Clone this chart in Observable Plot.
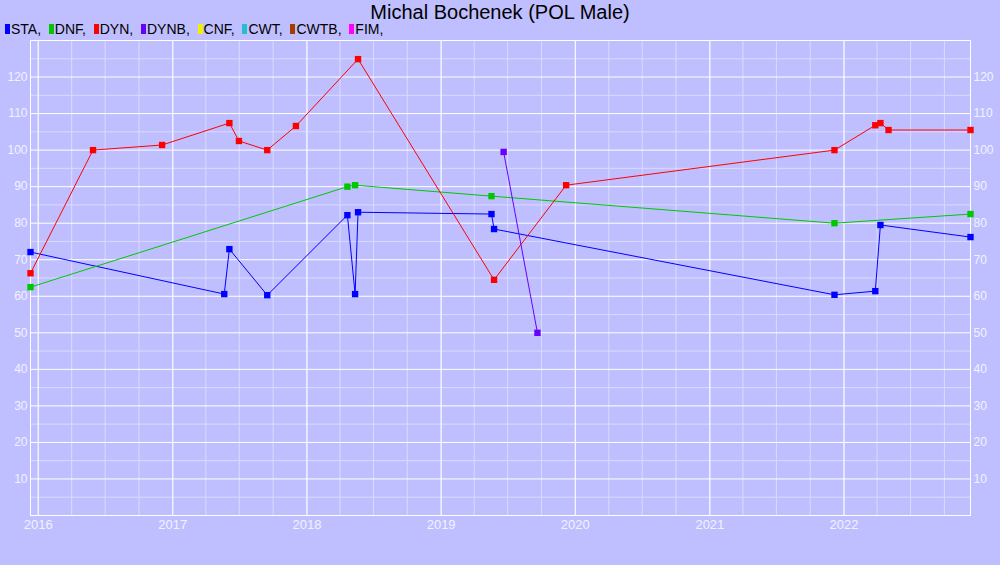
<!DOCTYPE html>
<html><head><meta charset="utf-8">
<script src="https://cdn.jsdelivr.net/npm/d3@7"></script>
<script src="https://cdn.jsdelivr.net/npm/@observablehq/plot@0.6"></script>
<style>
html,body{margin:0;padding:0;background:#bfbfff;}
#wrap{width:1000px;height:565px;position:relative;overflow:hidden;font-family:"Liberation Sans",Arial,sans-serif;}
#title{position:absolute;left:0;top:2px;width:1000px;height:20px;text-align:center;font-size:20px;line-height:20px;color:#000;}
#legend{position:absolute;left:5px;top:22.5px;height:12px;font-size:14px;line-height:12px;color:#000;white-space:pre;}
.sq{display:inline-block;width:5px;height:10px;margin-right:1px;vertical-align:baseline;}
#chart{position:absolute;left:0;top:36px;}
</style>
</head><body>
<div id="wrap">
  <div id="title">Michal Bochenek (POL Male)</div>
  <div id="legend"></div>
  <div id="chart"></div>
</div>
<script>
// Legend
const disciplines = ["STA","DNF","DYN","DYNB","CNF","CWT","CWTB","FIM"];
const disciplineColors = ["#0000ff","#00c800","#ff0000","#6600ff","#f0f000","#20c0d0","#a04000","#ff00ff"];

// Series (date, value)
const staDates = ["2015-12-11","2017-05-21","2017-06-04","2017-09-15","2018-04-21","2018-05-12","2018-05-20","2019-05-18","2019-05-25","2021-12-06","2022-03-27","2022-04-10","2022-12-11"];
const staValues = [72.1,60.6,72.9,60.3,82.2,60.6,83.0,82.5,78.4,60.4,61.4,79.5,76.2];

const dnfDates = ["2015-12-11","2018-04-21","2018-05-12","2019-05-18","2021-12-06","2022-12-11"];
const dnfValues = [62.5,90.0,90.4,87.4,80.0,82.5];

const dynDates = ["2015-12-11","2016-05-29","2016-12-03","2017-06-04","2017-06-30","2017-09-15","2017-12-02","2018-05-20","2019-05-25","2019-12-07","2021-12-06","2022-03-27","2022-04-10","2022-05-02","2022-12-11"];
const dynValues = [66.3,100.0,101.4,107.4,102.5,100.0,106.6,124.9,64.5,90.4,100.0,106.8,107.4,105.5,105.5];

const dynbDates = ["2019-06-20","2019-09-20"];
const dynbValues = [99.5,50.0];

// Axis ticks
const yearTicks = [2016,2017,2018,2019,2020,2021,2022];
const yTicks = [10,20,30,40,50,60,70,80,90,100,110,120];
const yMinorTicks = [5,15,25,35,45,55,65,75,85,95,105,115,125];

const legend = document.getElementById("legend");
disciplines.forEach((d,i)=>{
  const s = document.createElement("span");
  s.className = "sq"; s.style.background = disciplineColors[i];
  legend.appendChild(s);
  legend.appendChild(document.createTextNode(d + ",  "));
});

function rows(dates, values, name){
  return dates.map((d,i)=>({date:new Date(d), value:values[i], series:name}));
}
const series = [
  {name:"STA", data:rows(staDates, staValues, "STA"), color:disciplineColors[0]},
  {name:"DNF", data:rows(dnfDates, dnfValues, "DNF"), color:disciplineColors[1]},
  {name:"DYN", data:rows(dynDates, dynValues, "DYN"), color:disciplineColors[2]},
  {name:"DYNB", data:rows(dynbDates, dynbValues, "DYNB"), color:disciplineColors[3]}
];

const all = series.flatMap(s=>s.data);
const xDomain = d3.extent(all, d=>d.date);
const yearDates = yearTicks.map(y=>new Date(Date.UTC(y,0,1)));
const minorX = d3.utcMonth.every(3).range(new Date(Date.UTC(2016,0,1)), new Date(Date.UTC(2022,11,31)));

const marks = [
  Plot.ruleX(minorX, {stroke:"#dadaff", strokeWidth:1}),
  Plot.ruleY(yMinorTicks, {stroke:"#dadaff", strokeWidth:1}),
  Plot.ruleX(yearDates, {stroke:"#ffffff", strokeWidth:1}),
  Plot.ruleY(yTicks, {stroke:"#ffffff", strokeWidth:1}),
  Plot.frame({stroke:"#ffffff"}),
  Plot.axisX(yearDates, {tickSize:0, tickPadding:4, tickFormat:d3.utcFormat("%Y"), label:null, fontSize:13, fill:"#f2f2ff"}),
  Plot.axisY(yTicks, {anchor:"left", tickSize:0, tickPadding:3, label:null, fontSize:12, fill:"#f2f2ff"}),
  Plot.axisY(yTicks, {anchor:"right", tickSize:0, tickPadding:3, label:null, fontSize:12, fill:"#f2f2ff"})
];
for (const s of series){
  marks.push(Plot.line(s.data, {x:"date", y:"value", stroke:s.color, strokeWidth:1}));
}
for (const s of series){
  marks.push(Plot.dot(s.data, {x:"date", y:"value", symbol:"square", r:3.6, fill:s.color, stroke:"none"}));
}

const chart = Plot.plot({
  width:1000, height:529,
  marginTop:4, marginBottom:50, marginLeft:30, marginRight:30,
  style:{background:"transparent", fontFamily:"'Liberation Sans', Arial, sans-serif", color:"#f2f2ff"},
  x:{type:"utc", domain:xDomain},
  y:{domain:[0,130]},
  marks
});
document.getElementById("chart").appendChild(chart);
</script>
</body></html>
